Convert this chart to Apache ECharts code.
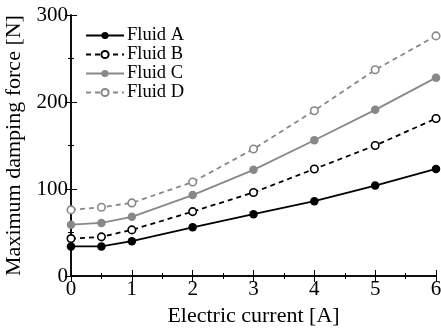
<!DOCTYPE html>
<html>
<head>
<meta charset="utf-8">
<script src="https://cdn.jsdelivr.net/npm/echarts@6/dist/echarts.min.js"></script>
<style>
  html, body { margin: 0; padding: 0; background: #fff; }
  #chart { width: 441px; height: 331px; }
</style>
</head>
<body>
<div id="chart"></div>
<script>
// electric current [A]
const current = [0, 0.5, 1, 2, 3, 4, 5, 6];
// maximum damping force [N]
const fluidA = [34, 34, 40, 56, 71, 86, 104, 123];
const fluidB = [43, 45, 53, 74, 96, 123, 150, 181];
const fluidC = [59, 61, 68, 93, 122, 156, 191, 228];
const fluidD = [76, 79, 84, 108, 146, 190, 237, 276];

const FONT = 'Liberation Serif';
const GRAY = '#888888';

function pairs(ys) {
    return current.map((x, i) => [x, ys[i]]);
}

function makeSeries(name, ys, color, dashed, filled) {
    return {
        name: name,
        type: 'line',
        data: pairs(ys),
        symbol: 'circle',
        symbolSize: filled ? 8.5 : 7.5,
        showSymbol: true,
        lineStyle: { color: color, width: 1.8, type: dashed ? [5, 4] : 'solid' },
        itemStyle: {
            color: filled ? color : '#fff',
            borderColor: color,
            borderWidth: filled ? 0 : 1.6
        },
        emphasis: { disabled: true },
        animation: false
    };
}

const chart = echarts.init(document.getElementById('chart'));

const axisLine = { show: true, lineStyle: { color: '#000', width: 1.5 } };
const tickStyle = { color: '#000', width: 1 };

chart.setOption({
    animation: false,
    textStyle: { fontFamily: FONT },
    grid: { left: 71, right: 5, top: 15, bottom: 55, containLabel: false, outerBoundsMode: 'none' },
    legend: {
        left: 80,
        top: 21,
        orient: 'vertical',
        itemGap: 0,
        itemWidth: 38,
        itemHeight: 9,
        textStyle: { fontFamily: FONT, fontSize: 18.5, lineHeight: 19, color: '#000', padding: [0, 0, 0, -2] },
        data: ['Fluid A', 'Fluid B', 'Fluid C', 'Fluid D']
    },
    xAxis: [
        {
            type: 'value', min: 0, max: 6, interval: 1,
            name: 'Electric current [A]', nameLocation: 'middle', nameGap: 28,
            nameTextStyle: { fontFamily: FONT, fontSize: 22, color: '#000' },
            axisLine: axisLine,
            axisTick: { inside: true, length: 6, lineStyle: tickStyle },
            minorTick: { show: true, splitNumber: 2, length: 3, lineStyle: tickStyle },
            axisLabel: { fontFamily: FONT, fontSize: 21, color: '#000', margin: 3 },
            splitLine: { show: false }
        },
        {
            type: 'value', min: 0, max: 6, interval: 1, position: 'top',
            axisLine: axisLine,
            axisTick: { inside: true, length: 6, lineStyle: tickStyle },
            minorTick: { show: true, splitNumber: 2, length: 3, lineStyle: tickStyle },
            axisLabel: { show: false },
            splitLine: { show: false }
        }
    ],
    yAxis: [
        {
            type: 'value', min: 0, max: 300, interval: 100,
            name: 'Maximum damping force [N]', nameLocation: 'middle', nameGap: 37,
            nameTextStyle: { fontFamily: FONT, fontSize: 22, color: '#000' },
            axisLine: axisLine,
            axisTick: { inside: true, length: 6, lineStyle: tickStyle },
            minorTick: { show: true, splitNumber: 2, length: 3, lineStyle: tickStyle },
            axisLabel: { fontFamily: FONT, fontSize: 21, color: '#000', margin: 3 },
            splitLine: { show: false }
        },
        {
            type: 'value', min: 0, max: 300, interval: 100, position: 'right',
            axisLine: axisLine,
            axisTick: { inside: true, length: 6, lineStyle: tickStyle },
            minorTick: { show: true, splitNumber: 2, length: 3, lineStyle: tickStyle },
            axisLabel: { show: false },
            splitLine: { show: false }
        }
    ],
    series: [
        makeSeries('Fluid A', fluidA, '#000', false, true),
        makeSeries('Fluid B', fluidB, '#000', true, false),
        makeSeries('Fluid C', fluidC, GRAY, false, true),
        makeSeries('Fluid D', fluidD, GRAY, true, false)
    ]
});
</script>
</body>
</html>
